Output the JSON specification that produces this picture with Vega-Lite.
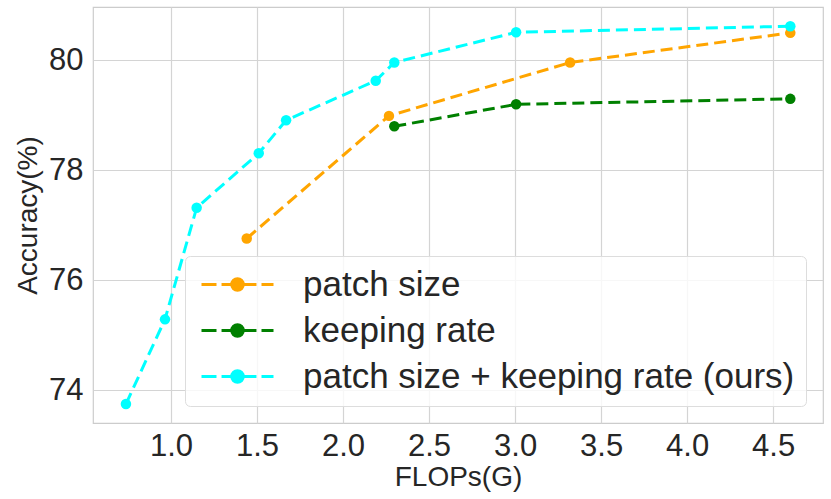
{
  "$schema": "https://vega.github.io/schema/vega-lite/v6.json",
  "width": 730,
  "height": 416,
  "autosize": {"type": "none"},
  "padding": {"left": 93, "top": 7, "right": 8, "bottom": 76},
  "background": "white",
  "config": {
    "font": "Liberation Sans",
    "view": {"stroke": "#cccccc", "strokeWidth": 1.2},
    "axis": {
      "labelFont": "Liberation Sans",
      "titleFont": "Liberation Sans",
      "labelFontSize": 31,
      "titleFontSize": 28,
      "titleFontWeight": "normal",
      "labelColor": "#262626",
      "titleColor": "#262626",
      "gridColor": "#d4d4d4",
      "gridWidth": 1.2,
      "ticks": false,
      "domain": false
    },
    "legend": {
      "labelFont": "Liberation Sans",
      "labelFontSize": 35,
      "labelColor": "#262626",
      "labelLimit": 0
    }
  },
  "data": {
    "values": [
      {"method": "keeping rate", "flops": 2.298, "acc": 78.8},
      {"method": "keeping rate", "flops": 3.006, "acc": 79.2},
      {"method": "keeping rate", "flops": 4.6, "acc": 79.3},
      {"method": "patch size", "flops": 1.44, "acc": 76.76},
      {"method": "patch size", "flops": 2.267, "acc": 78.99},
      {"method": "patch size", "flops": 3.32, "acc": 79.96},
      {"method": "patch size", "flops": 4.6, "acc": 80.5},
      {"method": "patch size + keeping rate (ours)", "flops": 0.738, "acc": 73.75},
      {"method": "patch size + keeping rate (ours)", "flops": 0.965, "acc": 75.29},
      {"method": "patch size + keeping rate (ours)", "flops": 1.149, "acc": 77.32},
      {"method": "patch size + keeping rate (ours)", "flops": 1.51, "acc": 78.31},
      {"method": "patch size + keeping rate (ours)", "flops": 1.669, "acc": 78.91},
      {"method": "patch size + keeping rate (ours)", "flops": 2.19, "acc": 79.63},
      {"method": "patch size + keeping rate (ours)", "flops": 2.298, "acc": 79.96},
      {"method": "patch size + keeping rate (ours)", "flops": 3.006, "acc": 80.51},
      {"method": "patch size + keeping rate (ours)", "flops": 4.6, "acc": 80.62}
    ]
  },
  "mark": {
    "type": "line",
    "strokeWidth": 3,
    "strokeDash": [12, 6],
    "point": {"filled": true, "size": 110}
  },
  "encoding": {
    "x": {
      "field": "flops",
      "type": "quantitative",
      "title": "FLOPs(G)",
      "scale": {"domain": [0.5465, 4.79], "nice": false, "zero": false},
      "axis": {
        "values": [1.0, 1.5, 2.0, 2.5, 3.0, 3.5, 4.0, 4.5],
        "format": ".1f",
        "labelPadding": 8,
        "titlePadding": 2
      }
    },
    "y": {
      "field": "acc",
      "type": "quantitative",
      "title": "Accuracy(%)",
      "scale": {"domain": [73.405, 80.97], "nice": false, "zero": false},
      "axis": {
        "values": [74, 76, 78, 80],
        "labelPadding": 10,
        "titlePadding": 6
      }
    },
    "color": {
      "field": "method",
      "type": "nominal",
      "scale": {
        "domain": ["patch size", "keeping rate", "patch size + keeping rate (ours)"],
        "range": ["#FFA500", "#008000", "#00FFFF"]
      },
      "legend": {
        "title": null,
        "orient": "bottom-right",
        "offset": 17,
        "padding": 11,
        "fillColor": "rgba(255,255,255,0.8)",
        "strokeColor": "#dddddd",
        "cornerRadius": 5,
        "symbolType": "M-3,0H-1.75M-1.33,0H-0.5M0.5,0H1.58M2,0H3M-0.48,0A0.48,0.48 0 1,0 0.48,0A0.48,0.48 0 1,0 -0.48,0Z",
        "symbolSize": 576,
        "symbolStrokeWidth": 3,
        "symbolOffset": 24,
        "labelOffset": 48,
        "rowPadding": 10,
        "encode": {
          "symbols": {
            "update": {
              "fill": {"scale": "color", "field": "value"},
              "fillOpacity": {"value": 1},
              "strokeDash": {"value": []}
            }
          }
        }
      }
    }
  }
}
